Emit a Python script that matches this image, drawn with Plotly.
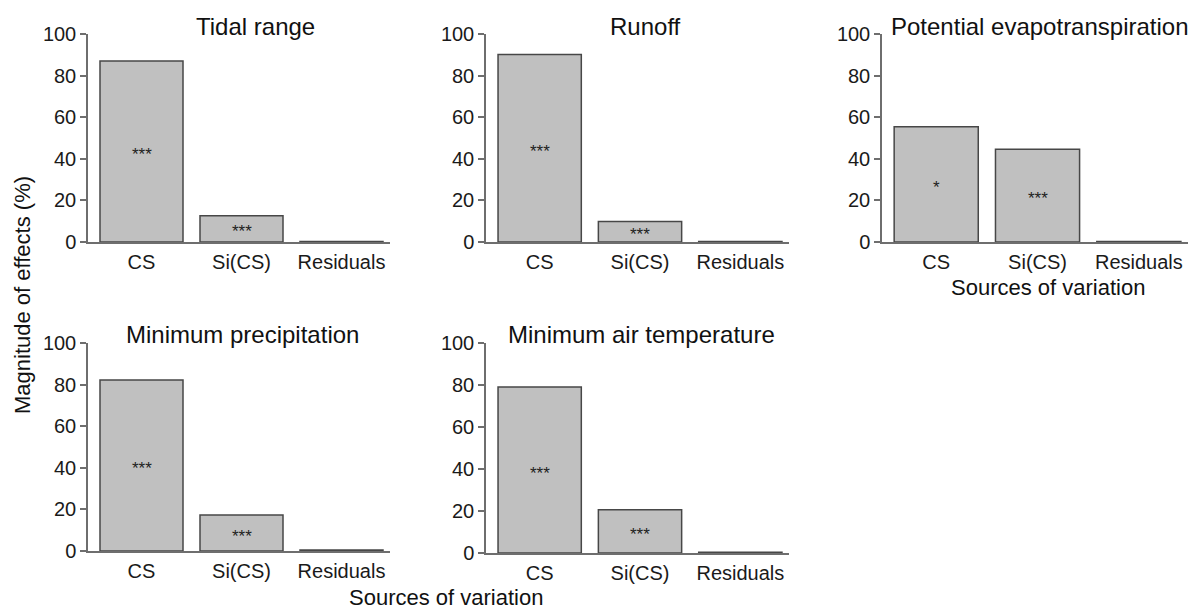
import plotly.graph_objects as go

W, H = 1201, 611

categories = ["CS", "Si(CS)", "Residuals"]
panel_titles = ["Tidal range", "Runoff", "Potential evapotranspiration",
                "Minimum precipitation", "Minimum air temperature"]
tidal_range = [87.0, 12.6, 0.3]
runoff = [90.2, 9.8, 0.3]
potential_evapotranspiration = [55.4, 44.6, 0.3]
minimum_precipitation = [82.2, 17.3, 0.5]
minimum_air_temperature = [79.0, 20.6, 0.3]
significance = [["***", "***", ""], ["***", "***", ""], ["*", "***", ""],
                ["***", "***", ""], ["***", "***", ""]]
y_ticks = [0, 20, 40, 60, 80, 100]

series = [tidal_range, runoff, potential_evapotranspiration,
          minimum_precipitation, minimum_air_temperature]

# panel pixel boxes: (x0, x1, ytop, ybottom)
boxes = [(88, 390, 34, 242), (486, 789, 34, 242), (882, 1188, 34, 242),
         (88, 390, 343, 551), (486, 789, 343, 553)]
title_pos = [(255, 36), (645, 36), (1040, 36), (242, 344), (641, 344)]

FONT = "Liberation Sans, Arial, sans-serif"
fig = go.Figure()

def px(x):
    return x / W

def py(y):
    return 1 - y / H

for i, (vals, box) in enumerate(zip(series, boxes)):
    n = i + 1
    xa = "x" if n == 1 else f"x{n}"
    ya = "y" if n == 1 else f"y{n}"
    fig.add_trace(go.Bar(
        x=categories, y=vals, xaxis=xa, yaxis=ya,
        width=0.83,
        marker=dict(color="#c0c0c0", line=dict(color="#474747", width=1.5)),
        showlegend=False, hoverinfo="skip",
    ))
    for c, v, s in zip(categories, vals, significance[i]):
        if s:
            fig.add_annotation(x=c, y=v / 2, xref=xa, yref=ya, text=s,
                               showarrow=False, xanchor="center", yanchor="middle",
                               yshift=-3,
                               font=dict(size=17, color="#222222", family=FONT))
    x0, x1, yt, yb = box
    fig.layout[("xaxis" if n == 1 else f"xaxis{n}")] = dict(
        domain=[px(x0), px(x1)], anchor=ya, range=[-0.535, 2.485],
        showline=True, linecolor="#6e6e6e", linewidth=1.5,
        ticks="outside", ticklen=1, tickcolor="rgba(0,0,0,0)",
        showgrid=False, zeroline=False, fixedrange=True, automargin=False,
        tickfont=dict(size=20, color="#1a1a1a", family=FONT),
    )
    fig.layout[("yaxis" if n == 1 else f"yaxis{n}")] = dict(
        domain=[py(yb), py(yt)], anchor=xa, range=[0, 100],
        tickvals=y_ticks, showline=True, linecolor="#6e6e6e", linewidth=1.5,
        ticks="outside", ticklen=6, tickcolor="#6e6e6e", tickwidth=1.5,
        showgrid=False, zeroline=False, fixedrange=True, automargin=False,
        tickfont=dict(size=20, color="#1a1a1a", family=FONT),
    )
    tx, ty = title_pos[i]
    fig.add_annotation(x=px(tx), y=py(ty + 6), xref="paper", yref="paper",
                       text=panel_titles[i], showarrow=False,
                       xanchor="center", yanchor="bottom",
                       font=dict(size=24, color="#111111", family=FONT))

# axis titles
fig.add_annotation(x=px(1048), y=py(297 + 5), xref="paper", yref="paper",
                   text="Sources of variation", showarrow=False,
                   xanchor="center", yanchor="bottom",
                   font=dict(size=22, color="#111111", family=FONT))
fig.add_annotation(x=px(446), y=py(607 + 5), xref="paper", yref="paper",
                   text="Sources of variation", showarrow=False,
                   xanchor="center", yanchor="bottom",
                   font=dict(size=22, color="#111111", family=FONT))
fig.add_annotation(x=px(22), y=py(295), xref="paper", yref="paper",
                   text="Magnitude of effects (%)", showarrow=False,
                   textangle=-90, xanchor="center", yanchor="middle",
                   font=dict(size=22, color="#111111", family=FONT))

fig.update_layout(template="none", width=W, height=H, autosize=False,
                  margin=dict(l=0, r=0, t=0, b=0, autoexpand=False),
                  paper_bgcolor="white", plot_bgcolor="white")
fig.write_html("out.html")
